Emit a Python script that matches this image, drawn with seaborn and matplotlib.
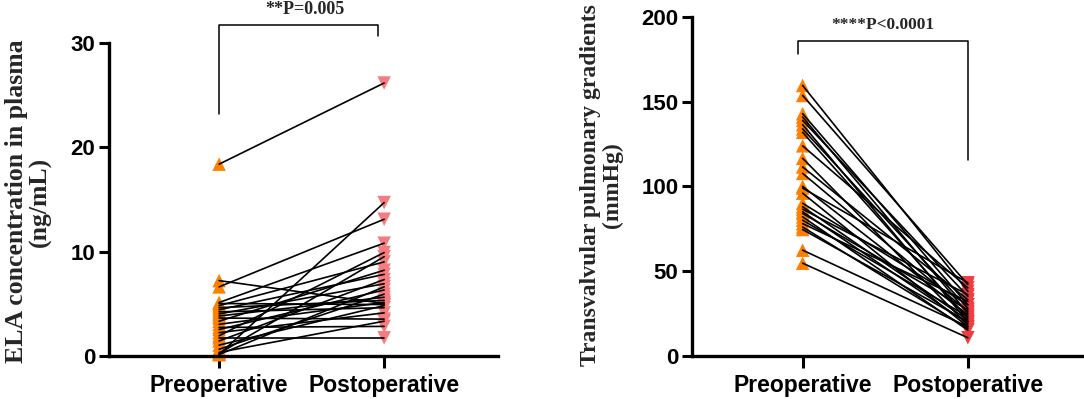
import numpy as np
import pandas as pd
import matplotlib
matplotlib.use("Agg")
import matplotlib.pyplot as plt
import seaborn as sns

# ---------------- data ----------------
groups = ["Preoperative", "Postoperative"]

ela_pre = [18.4, 7.2, 6.6, 5.1, 5.0, 4.8, 4.6, 4.4, 4.2, 4.0, 3.8, 3.6, 3.3,
           3.0, 2.7, 2.5, 2.2, 1.9, 1.7, 1.4, 1.0, 0.6, 0.3, 0.2, 0.1, 0.1]
ela_post = [26.2, 5.0, 13.1, 10.8, 4.9, 9.0, 5.3, 7.8, 4.6, 6.9, 5.6, 3.5, 8.2,
            5.1, 2.8, 6.3, 4.1, 9.9, 1.7, 7.3, 4.8, 5.9, 3.3, 9.5, 14.7, 6.6]

tpg_pre = [159.7, 153.8, 143, 141, 139, 136.5, 134, 132, 124, 116.6, 111.5,
           107.7, 100, 99, 96, 90, 88, 86.5, 85, 84, 82, 80, 78, 76, 74.5,
           62.3, 54.6]
tpg_post = [38, 42, 30, 25, 35, 20, 28, 22, 40, 18, 33, 26, 24, 43, 17, 30,
            21, 36, 19, 27, 15, 23, 32, 16, 20, 17, 10.5]

ela_ylabel = "ELA concentration in plasma\n(ng/mL)"
tpg_ylabel = "Transvalvular pulmonary gradients\n(mmHg)"
ela_sig = "**P=0.005"
tpg_sig = "****P<0.0001"
ela_yticks = [0, 10, 20, 30]
tpg_yticks = [0, 50, 100, 150, 200]

pre_color = "#FF7F00"
ela_post_color = "#F77C80"
tpg_post_color = "#EF3E42"


def long_df(pre, post):
    n = len(pre)
    return pd.DataFrame({
        "subject": list(range(n)) * 2,
        "time": [groups[0]] * n + [groups[1]] * n,
        "pos": [0] * n + [1] * n,
        "value": list(pre) + list(post),
    })


sns.set_theme(style="ticks")
plt.rcParams["font.family"] = ["Liberation Sans", "DejaVu Sans"]

fig = plt.figure(figsize=(10.84, 3.99), dpi=100)
ax1 = fig.add_axes([0.1006, 0.109, 0.4594 - 0.1006, 0.891 - 0.109])
ax2 = fig.add_axes([0.6388, 0.109, 0.998 - 0.6388, 0.9566 - 0.109])


def draw(ax, pre, post, post_color, ylim, yticks, ylabel, label_xy, label_size,
         sig, br_x, br_y_left, br_y_top, br_y_right, sig_xy, sig_size):
    df = long_df(pre, post)
    sns.scatterplot(data=df, x="pos", y="value", hue="time", style="time",
                    markers={groups[0]: "^", groups[1]: "v"},
                    palette={groups[0]: pre_color, groups[1]: post_color},
                    s=95, linewidth=0, ax=ax, legend=False, zorder=2,
                    clip_on=False)
    sns.lineplot(data=df, x="pos", y="value", units="subject", estimator=None,
                 color="black", linewidth=1.2, ax=ax, legend=False, zorder=3)
    ax.set_xlim(-0.667, 1.69)
    ax.set_ylim(*ylim)
    ax.set_xticks([0, 1])
    ax.set_xticklabels(groups, fontsize=16.5, fontweight="bold")
    ax.set_yticks(yticks)
    ax.set_yticklabels([str(t) for t in yticks], fontsize=16,
                       fontweight="bold")
    ax.set_xlabel("")
    ax.set_ylabel("")
    for side in ["top", "right"]:
        ax.spines[side].set_visible(False)
    for side in ["left", "bottom"]:
        ax.spines[side].set_linewidth(2.4)
        ax.spines[side].set_color("black")
    ax.tick_params(axis="y", length=7, width=2.2, pad=3, colors="black")
    ax.tick_params(axis="x", length=8.5, width=2.2, pad=5, colors="black")
    # significance bracket
    ax.plot([br_x[0], br_x[0], br_x[1], br_x[1]],
            [br_y_left, br_y_top, br_y_top, br_y_right],
            color="black", lw=1.1, clip_on=False, zorder=4)
    ax.text(sig_xy[0], sig_xy[1], sig, ha="center", va="center",
            fontsize=sig_size, fontweight="bold", family="Liberation Serif",
            clip_on=False)
    fig.text(label_xy[0], label_xy[1], ylabel, rotation=90, ha="center",
             va="center", multialignment="center", fontsize=label_size,
             fontweight="bold", family="Liberation Serif", linespacing=1.05)


draw(ax1, ela_pre, ela_post, ela_post_color, (0, 30), ela_yticks, ela_ylabel,
     (0.026, 0.495), 18.5, ela_sig, (0.0, 0.96), 23.25, 31.8, 30.7,
     (0.52, 33.3), 13)
draw(ax2, tpg_pre, tpg_post, tpg_post_color, (0, 200), tpg_yticks, tpg_ylabel,
     (0.555, 0.535), 17, tpg_sig, (-0.026, 1.0), 178.6, 186.2, 115.4,
     (0.486, 195.7), 12.5)

fig.savefig("out.png", dpi=100)
